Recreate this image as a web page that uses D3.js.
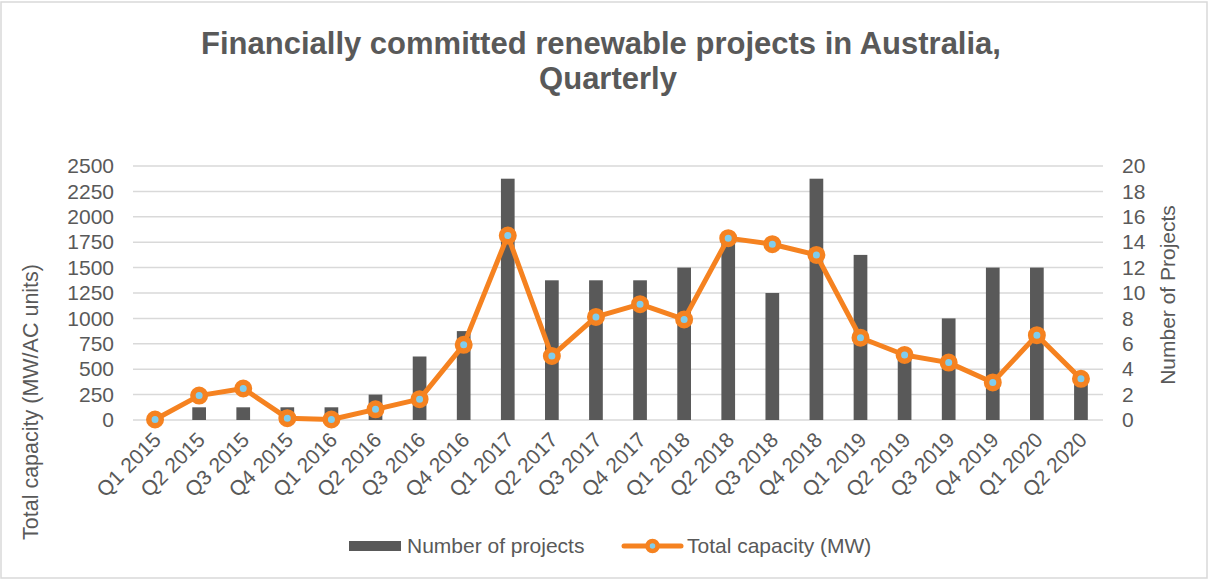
<!DOCTYPE html>
<html>
<head>
<meta charset="utf-8">
<script src="https://d3js.org/d3.v7.min.js"></script>
<style>
  body { margin: 0; background: #fff; }
  text { font-family: "Liberation Sans", Arial, sans-serif; fill: #595959; }
</style>
</head>
<body>
<div id="chart"></div>
<script>
  // data
  const quarters = ["Q1 2015","Q2 2015","Q3 2015","Q4 2015","Q1 2016","Q2 2016","Q3 2016","Q4 2016",
    "Q1 2017","Q2 2017","Q3 2017","Q4 2017","Q1 2018","Q2 2018","Q3 2018","Q4 2018",
    "Q1 2019","Q2 2019","Q3 2019","Q4 2019","Q1 2020","Q2 2020"];
  const projects = [0,1,1,1,1,2,5,7,19,11,11,11,12,14,10,19,13,5,8,12,12,3];
  const capacity = [5,240,310,18,5,105,205,740,1815,630,1015,1140,990,1790,1730,1625,810,640,565,370,835,405];
  const leftTicks = [0,250,500,750,1000,1250,1500,1750,2000,2250,2500];
  const rightTicks = [0,2,4,6,8,10,12,14,16,18,20];

  const width = 1212, height = 581;
  const plot = {left: 133, right: 1103, top: 166, bottom: 420};
  const fs = "21px";

  const svg = d3.select("#chart").append("svg")
    .attr("width", width)
    .attr("height", height);

  // border
  svg.append("rect")
    .attr("x", 1).attr("y", 2)
    .attr("width", width - 6).attr("height", height - 5)
    .attr("fill", "#fff")
    .attr("stroke", "#d9d9d9")
    .attr("stroke-width", 1.5);

  const x = d3.scaleBand().domain(quarters).range([plot.left, plot.right]);
  const yL = d3.scaleLinear().domain([0, 2500]).range([plot.bottom, plot.top]);
  const yR = d3.scaleLinear().domain([0, 20]).range([plot.bottom, plot.top]);

  // title
  svg.append("text")
    .attr("x", 601).attr("y", 54)
    .attr("text-anchor", "middle")
    .style("font-size", "31px").style("font-weight", "bold")
    .text("Financially committed renewable projects in Australia,");
  svg.append("text")
    .attr("x", 608).attr("y", 89)
    .attr("text-anchor", "middle")
    .style("font-size", "31px").style("font-weight", "bold")
    .text("Quarterly");

  // gridlines
  svg.append("g")
    .selectAll("line")
    .data(leftTicks)
    .join("line")
      .attr("x1", plot.left).attr("x2", plot.right)
      .attr("y1", d => yL(d)).attr("y2", d => yL(d))
      .attr("stroke", "#d9d9d9")
      .attr("stroke-width", 1.5);

  // left axis
  const axL = svg.append("g")
    .attr("transform", `translate(${plot.left},0)`)
    .call(d3.axisLeft(yL).tickValues(leftTicks).tickFormat(d3.format("d")).tickSize(0).tickPadding(19));
  axL.select(".domain").remove();
  axL.selectAll("text").style("font-size", fs).style("fill", "#595959");

  // right axis
  const axR = svg.append("g")
    .attr("transform", `translate(${plot.right},0)`)
    .call(d3.axisRight(yR).tickValues(rightTicks).tickSize(0).tickPadding(19));
  axR.select(".domain").remove();
  axR.selectAll("text").style("font-size", fs).style("fill", "#595959");

  // x axis labels
  svg.append("g")
    .selectAll("text")
    .data(quarters)
    .join("text")
      .attr("transform", d => `translate(${x(d) + x.bandwidth() / 2 + 2},${plot.bottom + 16}) rotate(-45)`)
      .attr("text-anchor", "end")
      .attr("dy", "0.35em")
      .style("font-size", fs)
      .text(d => d);

  // axis titles
  svg.append("text")
    .attr("transform", "translate(38,402) rotate(-90)")
    .attr("text-anchor", "middle")
    .style("font-size", "21.5px")
    .text("Total capacity (MW/AC units)");
  svg.append("text")
    .attr("transform", "translate(1175,295) rotate(-90)")
    .attr("text-anchor", "middle")
    .style("font-size", fs)
    .text("Number of Projects");

  // bars
  const barW = 13.7;
  svg.append("g")
    .selectAll("rect")
    .data(projects)
    .join("rect")
      .attr("x", (d, i) => x(quarters[i]) + x.bandwidth() / 2 - barW / 2)
      .attr("y", d => yR(d))
      .attr("width", barW)
      .attr("height", d => plot.bottom - yR(d))
      .attr("fill", "#595959");

  // line
  const line = d3.line()
    .x((d, i) => x(quarters[i]) + x.bandwidth() / 2)
    .y(d => yL(d));
  svg.append("path")
    .datum(capacity)
    .attr("d", line)
    .attr("fill", "none")
    .attr("stroke", "#f58220")
    .attr("stroke-width", 5)
    .attr("stroke-linejoin", "round");

  svg.append("g")
    .selectAll("circle")
    .data(capacity)
    .join("circle")
      .attr("cx", (d, i) => x(quarters[i]) + x.bandwidth() / 2)
      .attr("cy", d => yL(d))
      .attr("r", 6.25)
      .attr("fill", "#7fcdee")
      .attr("stroke", "#f58220")
      .attr("stroke-width", 5.5);

  // legend
  const lg = svg.append("g");
  lg.append("rect")
    .attr("x", 349).attr("y", 541)
    .attr("width", 52).attr("height", 10)
    .attr("fill", "#595959");
  lg.append("text")
    .attr("x", 407).attr("y", 553)
    .style("font-size", fs)
    .text("Number of projects");
  lg.append("line")
    .attr("x1", 624).attr("x2", 681)
    .attr("y1", 546).attr("y2", 546)
    .attr("stroke", "#f58220")
    .attr("stroke-width", 5)
    .attr("stroke-linecap", "round");
  lg.append("circle")
    .attr("cx", 652.5).attr("cy", 546)
    .attr("r", 5)
    .attr("fill", "#7fcdee")
    .attr("stroke", "#f58220")
    .attr("stroke-width", 4.5);
  lg.append("text")
    .attr("x", 687).attr("y", 553)
    .style("font-size", fs)
    .text("Total capacity (MW)");
</script>
</body>
</html>
